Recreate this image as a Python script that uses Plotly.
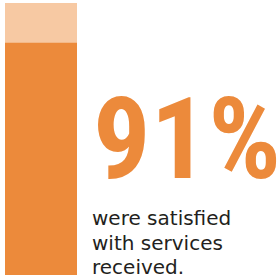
import plotly.graph_objects as go

# Data
categories = ["Satisfied"]
satisfied_pct = [91]        # filled portion (as drawn)
track_total = [106.5]       # light background track top (as drawn)
headline = "91%"
caption_lines = ["were satisfied", "with services", "received."]

ORANGE = "#EC8A3B"
LIGHT = "#F7C9A3"
TEXT = "#231F20"

W, H = 277, 278

fig = go.Figure()
fig.add_trace(go.Bar(x=[41], y=track_total, width=72, marker=dict(color=LIGHT, line=dict(width=0)),
                     hoverinfo="skip", showlegend=False))
fig.add_trace(go.Bar(x=[41], y=satisfied_pct, width=72, marker=dict(color=ORANGE, line=dict(width=0)),
                     hoverinfo="skip", showlegend=False, name=categories[0]))

fig.update_layout(
    width=W, height=H,
    margin=dict(l=0, r=0, t=0, b=0),
    barmode="overlay",
    paper_bgcolor="white", plot_bgcolor="white",
    xaxis=dict(range=[0, W], visible=False, fixedrange=True),
    yaxis=dict(range=[-1.175, 107.7], visible=False, fixedrange=True),
    showlegend=False,
)

fig.add_annotation(
    text=f"<b>{headline}</b>", xref="paper", yref="paper",
    x=92 / W, y=1 - 138.5 / H, xanchor="left", yanchor="middle",
    showarrow=False, borderpad=0,
    font=dict(family="Roboto Condensed, DejaVu Sans", size=114, color=ORANGE),
)
line_centers = [218, 243, 267]
for txt, yc in zip(caption_lines, line_centers):
    fig.add_annotation(
        text=txt, xref="paper", yref="paper",
        x=90 / W, y=1 - yc / H, xanchor="left", yanchor="middle", align="left",
        showarrow=False,
        font=dict(family="DejaVu Sans, sans-serif", size=20, color=TEXT),
    )

fig.write_html("out.html", config={"displayModeBar": False},
               post_script="document.body.style.margin='0';")
